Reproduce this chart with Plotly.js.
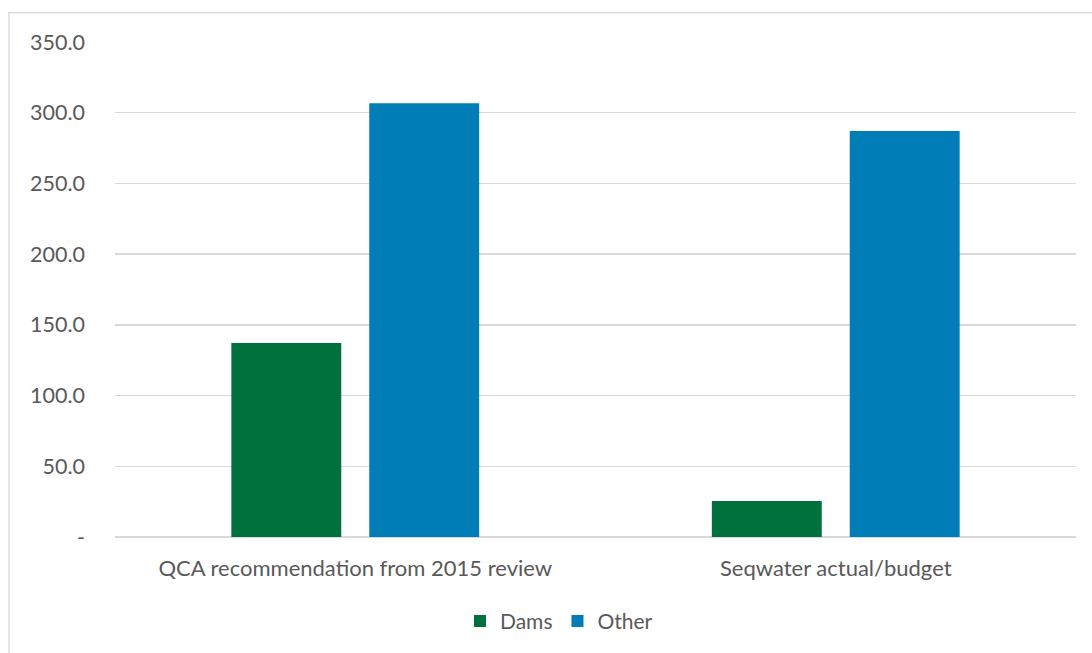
<!DOCTYPE html>
<html>
<head>
<meta charset="utf-8">
<script src="https://cdn.plot.ly/plotly-3.0.1.min.js"></script>
<style>
  html, body { margin: 0; padding: 0; background: #ffffff; }
  #chart { width: 1092px; height: 653px; }
</style>
</head>
<body>
<div id="chart"></div>
<script>
// Capital expenditure comparison, $ million
const categories = ["QCA recommendation from 2015 review", "Seqwater actual/budget"];
const damsValues = [137.2, 25.4];
const otherValues = [306.7, 287.1];
const tickValues = [0, 50, 100, 150, 200, 250, 300, 350];
const tickLabels = ["-", "50.0", "100.0", "150.0", "200.0", "250.0", "300.0", "350.0"];

const textColor = "#595959";
const fontFamily = "Lato, 'Open Sans', sans-serif";

const traces = [
  {
    type: "bar",
    name: "Dams",
    x: categories,
    y: damsValues,
    marker: { color: "#00703C" },
    hoverinfo: "x+y+name"
  },
  {
    type: "bar",
    name: "Other",
    x: categories,
    y: otherValues,
    marker: { color: "#007DB7" },
    hoverinfo: "x+y+name"
  }
];

const layout = {
  width: 1092,
  height: 653,
  margin: { l: 115, r: 16, t: 42, b: 115.4, pad: 0 },
  paper_bgcolor: "#ffffff",
  plot_bgcolor: "#ffffff",
  font: { family: fontFamily, size: 22, color: textColor },
  barmode: "group",
  bargap: 0.426,
  bargroupgap: 0.203,
  showlegend: true,
  legend: {
    orientation: "h",
    x: 0.462,
    xanchor: "center",
    y: -0.168,
    yanchor: "middle",
    font: { family: fontFamily, size: 21, color: textColor },
    itemwidth: 30,
    tracegroupgap: 0
  },
  xaxis: {
    type: "category",
    showgrid: false,
    showline: false,
    zeroline: false,
    ticks: "",
    tickfont: { family: fontFamily, size: 22, color: textColor },
    ticklabelstandoff: 16
  },
  yaxis: {
    range: [0, 350],
    tickmode: "array",
    tickvals: tickValues,
    ticktext: tickLabels,
    showgrid: true,
    gridcolor: "#d9d9d9",
    gridwidth: 1.3,
    zeroline: true,
    zerolinecolor: "#d9d9d9",
    zerolinewidth: 1.3,
    showline: false,
    ticks: "",
    ticklabelstandoff: 29,
    tickfont: { family: fontFamily, size: 21.5, color: textColor }
  },
  shapes: [
    {
      type: "rect",
      xref: "paper",
      yref: "paper",
      x0: -0.1103,
      x1: 1.3,
      y0: -0.5,
      y1: 1.0595,
      line: { color: "#d9d9d9", width: 1.3 },
      fillcolor: "rgba(0,0,0,0)",
      layer: "below"
    }
  ]
};

Plotly.newPlot("chart", traces, layout, { displayModeBar: false, staticPlot: true });
</script>
</body>
</html>
